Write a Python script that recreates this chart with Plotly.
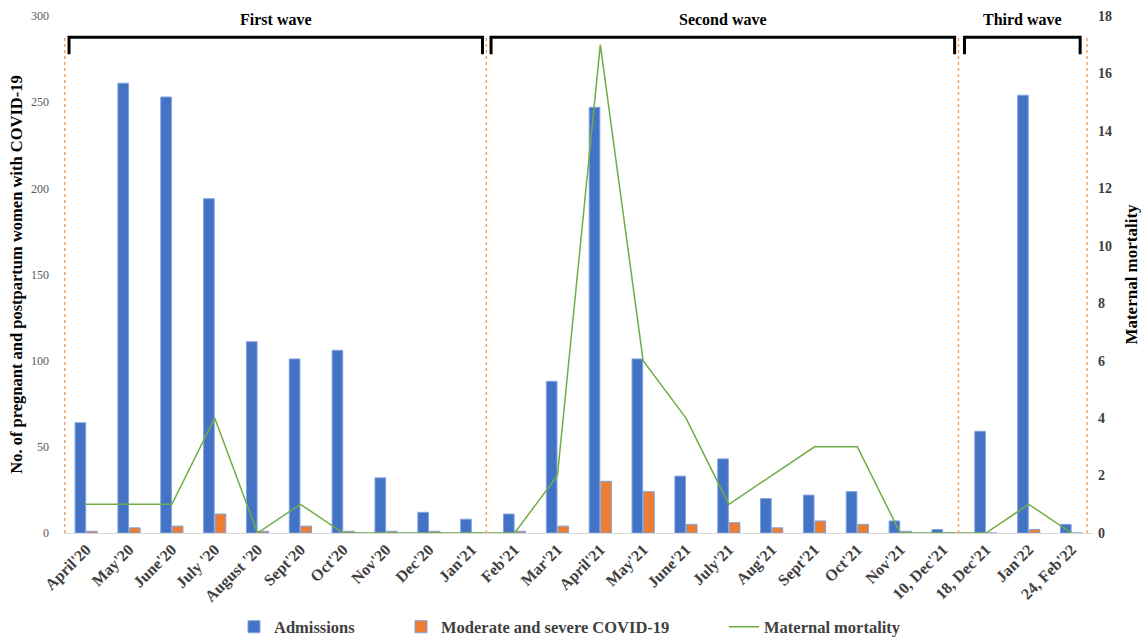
import plotly.graph_objects as go

categories = ["April'20", "May'20", "June'20", "July '20", "August '20", "Sept'20", "Oct'20",
              "Nov'20", "Dec'20", "Jan'21", "Feb'21", "Mar'21", "April'21", "May'21", "June'21",
              "July'21", "Aug'21", "Sept'21", "Oct'21", "Nov'21", "10, Dec'21", "18, Dec'21",
              "Jan'22", "24, Feb'22"]
admissions = [64, 261, 253, 194, 111, 101, 106, 32, 12, 8, 11, 88, 247, 101, 33, 43, 20, 22, 24, 7, 2, 59, 254, 5]
moderate_severe = [1, 3, 4, 11, 1, 4, 1, 1, 1, 0, 1, 4, 30, 24, 5, 6, 3, 7, 5, 1, 0, 0, 2, 0]
maternal_mortality = [1, 1, 1, 4, 0, 1, 0, 0, 0, 0, 0, 2, 17, 6, 4, 1, 2, 3, 3, 0, 0, 0, 1, 0]

waves = ["First wave", "Second wave", "Third wave"]
# bracket extents in category coordinates (start, end)
wave_spans = [(-0.40, 9.25), (9.45, 20.27), (20.50, 23.20)]
divider_positions = [-0.5, 9.34, 20.36, 23.36]

SERIF = "Liberation Serif"

fig = go.Figure()
fig.add_trace(go.Bar(x=categories, y=admissions, name="Admissions", legend="legend",
                     marker=dict(color="#4472C4", line=dict(color="#7FA3DC", width=1))))
fig.add_trace(go.Bar(x=categories, y=moderate_severe, name="Moderate and severe COVID-19",
                     legend="legend2",
                     marker=dict(color="#ED7D31", line=dict(color="#7FA3DC", width=1))))
fig.add_trace(go.Scatter(x=categories, y=maternal_mortality, name="Maternal mortality",
                         legend="legend3",
                         mode="lines", line=dict(color="#70AD47", width=1.5), yaxis="y2"))

shapes = []
for xd in divider_positions:
    shapes.append(dict(type="line", xref="x", yref="paper", x0=xd, x1=xd, y0=0, y1=0.96,
                       line=dict(color="#F4A46A", width=1.5, dash="dot")))
annotations = []
for name, (a, b) in zip(waves, wave_spans):
    shapes.append(dict(type="path", xref="x", yref="paper",
                       path=f"M {a},0.926 L {a},0.959 L {b},0.959 L {b},0.926",
                       line=dict(color="black", width=3)))
    annotations.append(dict(x=(a + b) / 2, y=0.994, xref="x", yref="paper", text=f"<b>{name}</b>",
                            showarrow=False, font=dict(family=SERIF, size=16, color="black"),
                            yanchor="middle"))

legend_font = dict(family=SERIF, size=16.5, color="#404040", weight="bold")
legend_common = dict(orientation="h", xanchor="left", y=(533 - 627) / 517, yanchor="middle",
                     font=legend_font, bgcolor="rgba(0,0,0,0)")

fig.update_layout(
    width=1144, height=638, showlegend=True,
    margin=dict(l=64, r=51, t=16, b=105, autoexpand=False),
    plot_bgcolor="white", paper_bgcolor="white",
    barmode="group", bargap=0.46, bargroupgap=0.08,
    font=dict(family=SERIF, color="#404040"),
    xaxis=dict(type="category", tickangle=-45, showgrid=False, showline=True, automargin=False,
               linecolor="#D9D9D9", linewidth=1,
               tickfont=dict(family=SERIF, size=16, color="#404040", weight="bold")),
    yaxis=dict(range=[0, 300], dtick=50, showgrid=False, zeroline=False, automargin=False,
               tickfont=dict(family=SERIF, size=12, color="#595959"), ticklabelstandoff=14,
               title=dict(text="<b>No. of pregnant and postpartum women with COVID-19</b>",
                          font=dict(family=SERIF, size=16.5, color="black"), standoff=4)),
    yaxis2=dict(range=[0, 18], dtick=2, overlaying="y", side="right", showgrid=False,
                zeroline=False, automargin=False, ticklabelstandoff=4,
                tickfont=dict(family=SERIF, size=14, color="#404040", weight="bold"),
                title=dict(text="<b>Maternal mortality</b>",
                           font=dict(family=SERIF, size=17, color="black"), standoff=14)),
    legend=dict(x=(234 - 64) / 1029, **legend_common),
    legend2=dict(x=(401 - 64) / 1029, **legend_common),
    legend3=dict(x=(724 - 64) / 1029, **legend_common),
    shapes=shapes, annotations=annotations,
)

fig.write_html("out.html", config={"displayModeBar": False},
               post_script="document.body.style.margin='0';document.body.style.overflow='hidden';")
